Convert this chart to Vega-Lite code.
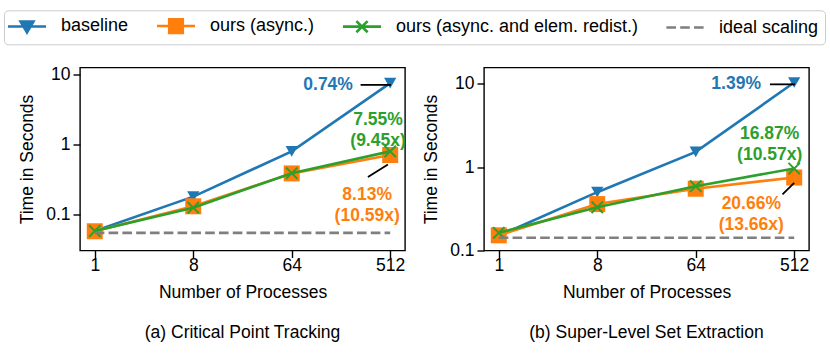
{
  "$schema": "https://vega.github.io/schema/vega-lite/v6.json",
  "background": "white",
  "padding": {"left": 3, "top": 9.5, "right": 0, "bottom": 0},
  "datasets": {
    "main": [
      {"panel": "a", "s": "baseline", "p": 1, "t": 0.058},
      {"panel": "a", "s": "baseline", "p": 8, "t": 0.18},
      {"panel": "a", "s": "baseline", "p": 64, "t": 0.8},
      {"panel": "a", "s": "baseline", "p": 512, "t": 7.6},
      {"panel": "a", "s": "ours (async.)", "p": 1, "t": 0.0575},
      {"panel": "a", "s": "ours (async.)", "p": 8, "t": 0.131},
      {"panel": "a", "s": "ours (async.)", "p": 64, "t": 0.387},
      {"panel": "a", "s": "ours (async.)", "p": 512, "t": 0.71},
      {"panel": "a", "s": "ours (async. and elem. redist.)", "p": 1, "t": 0.058},
      {"panel": "a", "s": "ours (async. and elem. redist.)", "p": 8, "t": 0.125},
      {"panel": "a", "s": "ours (async. and elem. redist.)", "p": 64, "t": 0.39},
      {"panel": "a", "s": "ours (async. and elem. redist.)", "p": 512, "t": 0.8},
      {"panel": "a", "s": "ideal scaling", "p": 1, "t": 0.0545},
      {"panel": "a", "s": "ideal scaling", "p": 512, "t": 0.0545},
      {"panel": "b", "s": "baseline", "p": 1, "t": 0.15},
      {"panel": "b", "s": "baseline", "p": 8, "t": 0.5},
      {"panel": "b", "s": "baseline", "p": 64, "t": 1.52},
      {"panel": "b", "s": "baseline", "p": 512, "t": 10.3},
      {"panel": "b", "s": "ours (async.)", "p": 1, "t": 0.152},
      {"panel": "b", "s": "ours (async.)", "p": 8, "t": 0.36},
      {"panel": "b", "s": "ours (async.)", "p": 64, "t": 0.55},
      {"panel": "b", "s": "ours (async.)", "p": 512, "t": 0.75},
      {"panel": "b", "s": "ours (async. and elem. redist.)", "p": 1, "t": 0.163},
      {"panel": "b", "s": "ours (async. and elem. redist.)", "p": 8, "t": 0.33},
      {"panel": "b", "s": "ours (async. and elem. redist.)", "p": 64, "t": 0.59},
      {"panel": "b", "s": "ours (async. and elem. redist.)", "p": 512, "t": 0.96},
      {"panel": "b", "s": "ideal scaling", "p": 1, "t": 0.142},
      {"panel": "b", "s": "ideal scaling", "p": 512, "t": 0.142}
    ],
    "ann": [
      {"panel": "a", "s": "baseline", "label": "0.74%", "p": 233, "t": 7.16},
      {"panel": "a", "s": "green", "label": "7.55%\n(9.45x)", "p": 396, "t": 2.23},
      {"panel": "a", "s": "orange", "label": "8.13%\n(10.59x)", "p": 315, "t": 0.189},
      {"panel": "b", "s": "baseline", "label": "1.39%", "p": 254, "t": 9.8},
      {"panel": "b", "s": "green", "label": "16.87%\n(10.57x)", "p": 305, "t": 2.47},
      {"panel": "b", "s": "orange", "label": "20.66%\n(13.66x)", "p": 207, "t": 0.356}
    ],
    "arrows": [
      {"panel": "a", "p": 274, "t": 7.16, "p2": 520, "t2": 7.16},
      {"panel": "a", "p": 320, "t": 0.343, "p2": 488, "t2": 0.52},
      {"panel": "b", "p": 307, "t": 9.8, "p2": 520, "t2": 9.8},
      {"panel": "b", "p": 400, "t": 0.47, "p2": 512, "t2": 0.647}
    ]
  },
  "hconcat": [
    {
      "width": 325,
      "height": 183,
      "title": {"text": "(a) Critical Point Tracking", "orient": "bottom", "offset": 23},
      "encoding": {
        "x": {"field": "p", "type": "quantitative", "title": "Number of Processes",
              "scale": {"type": "log", "base": 2, "domain": [0.732, 700], "nice": false},
              "axis": {"values": [1, 8, 64, 512], "format": "d", "labelAngle": 0, "titlePadding": 9, "labelPadding": -1}},
        "y": {"field": "t", "type": "quantitative", "title": "Time in Seconds",
              "scale": {"type": "log", "domain": [0.0305, 12.7], "nice": false},
              "axis": {"values": [0.1, 1, 10], "format": "~g", "titlePadding": 9, "labelPadding": 3}}
      },
      "layer": [
        {"data": {"name": "main"}, "transform": [{"filter": "datum.panel == 'a' && datum.s == 'baseline'"}],
         "mark": {"type": "line", "color": "#1f77b4", "strokeWidth": 2.6,
                  "point": {"shape": "triangle-down", "filled": true, "size": 150, "color": "#1f77b4"}}},
        {"data": {"name": "main"}, "transform": [{"filter": "datum.panel == 'a' && datum.s == 'ours (async.)'"}],
         "mark": {"type": "line", "color": "#ff7f0e", "strokeWidth": 2.6,
                  "point": {"shape": "square", "filled": true, "size": 256, "color": "#ff7f0e", "opacity": 1}}},
        {"data": {"name": "main"}, "transform": [{"filter": "datum.panel == 'a' && datum.s == 'ours (async. and elem. redist.)'"}],
         "mark": {"type": "line", "color": "#2ca02c", "strokeWidth": 2.6,
                  "point": {"shape": "M-1,-1L1,1M-1,1L1,-1", "filled": false, "size": 130, "strokeWidth": 2, "color": "#2ca02c", "opacity": 1}}},
        {"data": {"name": "main"}, "transform": [{"filter": "datum.panel == 'a' && datum.s == 'ideal scaling'"}],
         "mark": {"type": "line", "color": "#7f7f7f", "strokeWidth": 2.6, "strokeDash": [9.6, 4.2]}},
        {"data": {"name": "main"}, "transform": [{"filter": "datum.panel == 'a'"}],
         "mark": {"type": "point", "opacity": 0, "filled": true},
         "encoding": {
           "color": {"field": "s", "type": "nominal",
             "scale": {"domain": ["baseline", "ours (async.)", "ours (async. and elem. redist.)", "ideal scaling"],
                       "range": ["#1f77b4", "#ff7f0e", "#2ca02c", "#7f7f7f"]},
             "legend": {"orient": "none", "legendX": -76, "legendY": -57.2, "direction": "horizontal", "title": null,
                        "labelFont": "Liberation Sans", "labelFontSize": 18, "labelColor": "black", "labelLimit": 400,
                        "symbolSize": 256, "symbolOffset": 7.5, "labelOffset": 24.5, "columnPadding": 22,
                        "padding": 6, "strokeColor": "#cccccc", "fillColor": "white", "cornerRadius": 4,
                        "symbolOpacity": 1, "symbolStrokeWidth": 2.6,
                        "encode": {"symbols": {"update": {
                          "fill": {"scale": "color", "field": "value"},
                          "stroke": {"scale": "color", "field": "value"},
                          "opacity": {"value": 1},
                          "strokeWidth": {"value": 2.6}}}}}},
           "shape": {"field": "s", "type": "nominal",
             "scale": {"domain": ["baseline", "ours (async.)", "ours (async. and elem. redist.)", "ideal scaling"],
                       "range": ["M-2.375,0H2.375M-0.8,-0.6H0.8L0,0.75Z",
                                 "M-2.375,0H2.375M-0.85,-0.85H0.85V0.85H-0.85Z",
                                 "M-2.375,0H2.375M-0.7,-0.7L0.7,0.7M-0.7,0.7L0.7,-0.7",
                                 "M-2.325,0H-1.125M-0.6,0H0.6M1.125,0H2.325"]}}
         }},
        {"data": {"name": "arrows"}, "transform": [{"filter": "datum.panel == 'a'"}],
         "mark": {"type": "rule", "color": "black", "strokeWidth": 1.8},
         "encoding": {"x2": {"field": "p2"}, "y2": {"field": "t2"}}},
        {"data": {"name": "ann"}, "transform": [{"filter": "datum.panel == 'a' && datum.s == 'baseline'"}],
         "mark": {"type": "text", "color": "#1f77b4", "align": "right", "baseline": "middle", "font": "Liberation Sans", "fontSize": 17.5, "fontWeight": "bold", "lineBreak": "\n", "lineHeight": 21},
         "encoding": {"text": {"field": "label"}}},
        {"data": {"name": "ann"}, "transform": [{"filter": "datum.panel == 'a' && datum.s == 'green'"}],
         "mark": {"type": "text", "color": "#2ca02c", "align": "center", "baseline": "middle", "font": "Liberation Sans", "fontSize": 17.5, "fontWeight": "bold", "lineBreak": "\n", "lineHeight": 21},
         "encoding": {"text": {"field": "label"}}},
        {"data": {"name": "ann"}, "transform": [{"filter": "datum.panel == 'a' && datum.s == 'orange'"}],
         "mark": {"type": "text", "color": "#ff7f0e", "align": "center", "baseline": "middle", "font": "Liberation Sans", "fontSize": 17.5, "fontWeight": "bold", "lineBreak": "\n", "lineHeight": 21},
         "encoding": {"text": {"field": "label"}}}
      ]
    },
    {
      "width": 325,
      "height": 183,
      "title": {"text": "(b) Super-Level Set Extraction", "orient": "bottom", "offset": 23},
      "encoding": {
        "x": {"field": "p", "type": "quantitative", "title": "Number of Processes",
              "scale": {"type": "log", "base": 2, "domain": [0.732, 700], "nice": false},
              "axis": {"values": [1, 8, 64, 512], "format": "d", "labelAngle": 0, "titlePadding": 9, "labelPadding": -1}},
        "y": {"field": "t", "type": "quantitative", "title": "Time in Seconds",
              "scale": {"type": "log", "domain": [0.1, 15.6], "nice": false},
              "axis": {"values": [0.1, 1, 10], "format": "~g", "titlePadding": 9, "labelPadding": 3}}
      },
      "layer": [
        {"data": {"name": "main"}, "transform": [{"filter": "datum.panel == 'b' && datum.s == 'baseline'"}],
         "mark": {"type": "line", "color": "#1f77b4", "strokeWidth": 2.6,
                  "point": {"shape": "triangle-down", "filled": true, "size": 150, "color": "#1f77b4"}}},
        {"data": {"name": "main"}, "transform": [{"filter": "datum.panel == 'b' && datum.s == 'ours (async.)'"}],
         "mark": {"type": "line", "color": "#ff7f0e", "strokeWidth": 2.6,
                  "point": {"shape": "square", "filled": true, "size": 256, "color": "#ff7f0e", "opacity": 1}}},
        {"data": {"name": "main"}, "transform": [{"filter": "datum.panel == 'b' && datum.s == 'ours (async. and elem. redist.)'"}],
         "mark": {"type": "line", "color": "#2ca02c", "strokeWidth": 2.6,
                  "point": {"shape": "M-1,-1L1,1M-1,1L1,-1", "filled": false, "size": 130, "strokeWidth": 2, "color": "#2ca02c", "opacity": 1}}},
        {"data": {"name": "main"}, "transform": [{"filter": "datum.panel == 'b' && datum.s == 'ideal scaling'"}],
         "mark": {"type": "line", "color": "#7f7f7f", "strokeWidth": 2.6, "strokeDash": [9.6, 4.2]}},
        {"data": {"name": "arrows"}, "transform": [{"filter": "datum.panel == 'b'"}],
         "mark": {"type": "rule", "color": "black", "strokeWidth": 1.8},
         "encoding": {"x2": {"field": "p2"}, "y2": {"field": "t2"}}},
        {"data": {"name": "ann"}, "transform": [{"filter": "datum.panel == 'b' && datum.s == 'baseline'"}],
         "mark": {"type": "text", "color": "#1f77b4", "align": "right", "baseline": "middle", "font": "Liberation Sans", "fontSize": 17.5, "fontWeight": "bold", "lineBreak": "\n", "lineHeight": 21},
         "encoding": {"text": {"field": "label"}}},
        {"data": {"name": "ann"}, "transform": [{"filter": "datum.panel == 'b' && datum.s == 'green'"}],
         "mark": {"type": "text", "color": "#2ca02c", "align": "center", "baseline": "middle", "font": "Liberation Sans", "fontSize": 17.5, "fontWeight": "bold", "lineBreak": "\n", "lineHeight": 21},
         "encoding": {"text": {"field": "label"}}},
        {"data": {"name": "ann"}, "transform": [{"filter": "datum.panel == 'b' && datum.s == 'orange'"}],
         "mark": {"type": "text", "color": "#ff7f0e", "align": "center", "baseline": "middle", "font": "Liberation Sans", "fontSize": 17.5, "fontWeight": "bold", "lineBreak": "\n", "lineHeight": 21},
         "encoding": {"text": {"field": "label"}}}
      ]
    }
  ],
  "spacing": 14,
  "resolve": {"scale": {"x": "independent", "y": "independent", "color": "shared", "shape": "shared"}},
  "config": {
    "font": "Liberation Sans",
    "view": {"stroke": "black", "strokeWidth": 1.4},
    "axis": {"domain": false, "grid": false, "tickColor": "black", "tickWidth": 1.4, "tickSize": 7,
             "labelFont": "Liberation Sans", "labelFontSize": 17.5, "labelColor": "black",
             "titleFont": "Liberation Sans", "titleFontSize": 17.5, "titleFontWeight": "normal", "titleColor": "black"},
    "title": {"font": "Liberation Sans", "fontSize": 17.5, "fontWeight": "normal", "color": "black", "anchor": "middle"}
  }
}
